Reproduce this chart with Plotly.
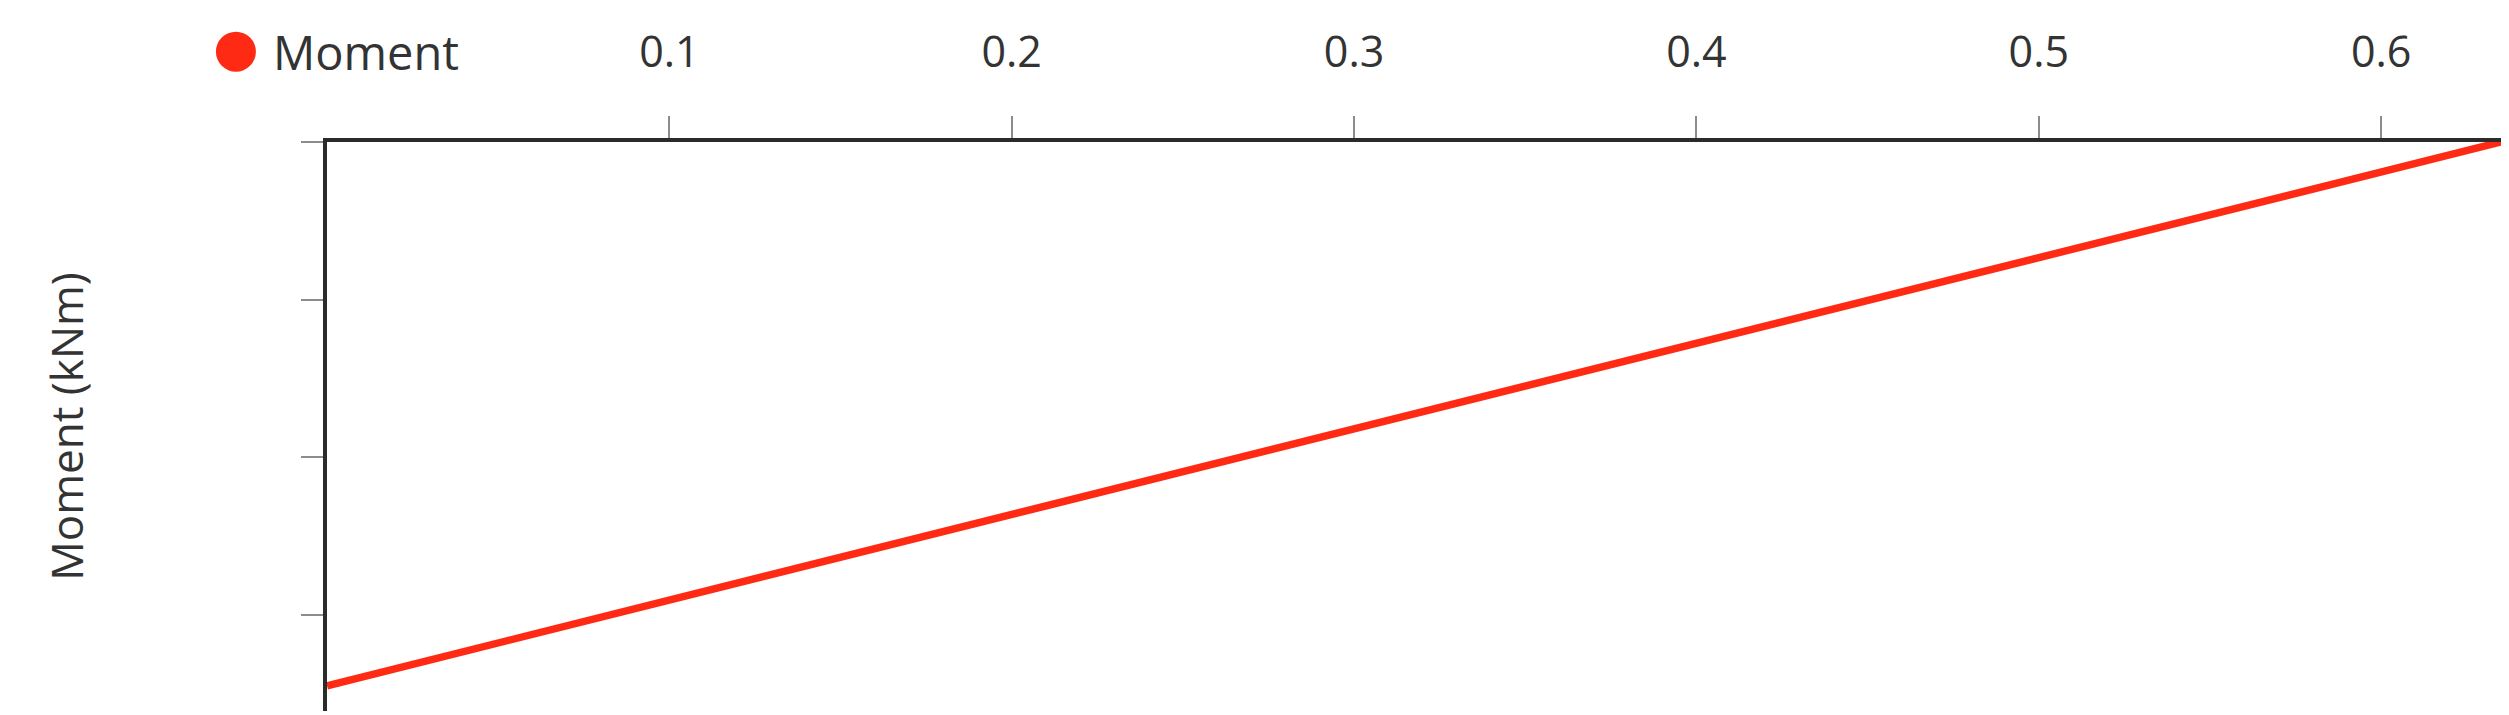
import plotly.graph_objects as go

# distance along the member (m) and bending moment (kNm)
position = [0.0, 0.635]
moment = [-3.45, 0.0]

x_tick_vals = [0.1, 0.2, 0.3, 0.4, 0.5, 0.6]
x_tick_text = ["0.1", "0.2", "0.3", "0.4", "0.5", "0.6"]
y_tick_vals = [0, -1, -2, -3]

RED = "#ff2a14"
AXIS = "#2b2b2b"
TICK = "#8c8c8c"
FONT = "Open Sans"

fig = go.Figure()
fig.add_trace(
    go.Scatter(
        x=position,
        y=moment,
        mode="lines",
        name="Moment",
        line={"color": RED, "width": 7.5},
        cliponaxis=False,
        showlegend=False,
    )
)

fig.update_layout(
    width=2509,
    height=715,
    margin={"l": 319, "r": 16, "t": 134, "b": 12},
    paper_bgcolor="white",
    plot_bgcolor="white",
    font={"family": FONT, "color": "#333333", "size": 44},
)
fig.update_xaxes(
    side="top",
    range=[0, 0.635],
    tickvals=x_tick_vals,
    ticktext=x_tick_text,
    ticks="outside",
    ticklen=22,
    tickwidth=2,
    tickcolor=TICK,
    ticklabelstandoff=32,
    showline=True,
    linecolor=AXIS,
    linewidth=3.5,
    showgrid=False,
    zeroline=False,
    automargin=False,
    tickfont={"size": 43, "color": "#333333"},
)
fig.update_yaxes(
    range=[-3.61, 0],
    tickvals=y_tick_vals,
    showticklabels=False,
    ticks="outside",
    ticklen=22,
    tickwidth=2,
    tickcolor=TICK,
    showline=True,
    linecolor=AXIS,
    linewidth=3.5,
    showgrid=False,
    zeroline=False,
    automargin=False,
    title={"text": "Moment (kNm)", "font": {"size": 44, "color": "#333333"}, "standoff": 205},
)

# legend entry drawn as a large dot plus label
fig.add_shape(
    type="circle",
    xref="paper", yref="paper",
    xsizemode="pixel", ysizemode="pixel",
    xanchor=-0.0419, yanchor=1.1587,
    x0=-20, x1=20, y0=-20, y1=20,
    fillcolor=RED, line={"width": 0},
)
fig.add_annotation(
    xref="paper", yref="paper",
    x=-0.0258, y=1.1587,
    xanchor="left", yanchor="middle",
    text="Moment",
    showarrow=False,
    font={"size": 47, "color": "#333333"},
)

fig.write_html("out.html")
